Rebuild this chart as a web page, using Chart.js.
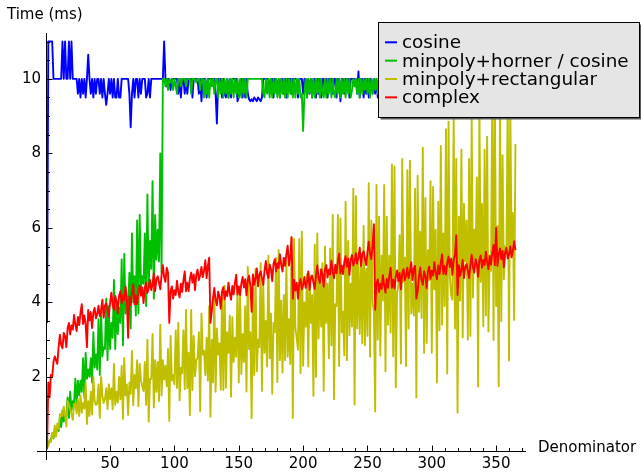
<!DOCTYPE html>
<html>
<head>
<meta charset="utf-8">
<script src="https://cdn.jsdelivr.net/npm/chart.js@4/dist/chart.umd.min.js"></script>
<style>
html,body{margin:0;padding:0;background:#ffffff;}
canvas{display:block;}
</style>
</head>
<body>
<canvas id="c" width="641" height="472"></canvas>
<script>
// ---- data (denominator n = 1 .. 365) ----
const seriesNames = ['cosine', 'minpoly+horner / cosine', 'minpoly+rectangular', 'complex'];
const seriesColors = ['#0000ff', '#00bf00', '#bfbf00', '#ff0000'];
const xTitle = 'Denominator';
const yTitle = 'Time (ms)';
const xTickLabels = [50, 100, 150, 200, 250, 300, 350];
const yTickLabels = [2, 4, 6, 8, 10];

const cosine = [
3.45, 11, 11, 11, 11, 10, 10, 10, 10, 10,
10, 10, 11, 10, 11, 10, 10, 11, 10, 11,
10, 10, 10, 10, 9.6, 10, 9.5, 10, 9.6, 10,
9.5, 10, 10.65, 10, 9.6, 10, 9.5, 10, 9.6, 10,
10, 9.6, 10, 9.5, 10, 9.6, 9.3, 9.6, 10, 9.6,
10, 9.5, 10, 9.5, 9.5, 10, 9.5, 9.5, 10, 10,
10, 10, 10, 10, 9.6, 8.7, 9.6, 10, 9.5, 10,
10, 9.5, 10, 9.6, 10, 10, 10, 9.5, 9.6, 10,
9.5, 10, 10, 10, 10, 10, 10, 10, 10, 10,
10, 11, 10, 9.8, 10, 10, 9.7, 10, 10, 10,
10, 10, 9.6, 10, 9.5, 10, 10, 9.6, 10, 9.6,
10, 10, 10, 9.5, 10, 10, 10, 10, 9.6, 10,
9.4, 10, 10, 10, 9.5, 10, 10, 10, 10, 10,
10, 9.6, 8.8, 10, 10, 10, 9.5, 10, 9.6, 9.5,
10, 9.5, 10, 9.5, 10, 10, 10, 10, 9.4, 9.5,
9.6, 10, 9.5, 10, 9.5, 10, 9.6, 9.45, 9.4, 9.45,
9.4, 9.5, 9.45, 9.4, 9.5, 9.45, 9.4, 9.5, 10, 10,
10, 10, 10, 9.6, 10, 10, 9.5, 10, 10, 9.6,
10, 9.5, 10, 10, 9.6, 10, 9.5, 10, 10, 10,
9.6, 10, 10, 10, 10, 9.5, 10, 10, 10, 9.6,
10, 10, 9.5, 10, 9.6, 10, 9.5, 10, 10, 9.5,
10, 9.6, 10, 9.5, 10, 10, 9.6, 10, 9.5, 10,
10, 10, 9.6, 10, 10, 9.5, 10, 10, 9.4, 10,
10, 9.6, 10, 10, 10, 9.5, 10, 10, 10, 10,
10, 9.6, 10.2, 9.5, 10, 10, 9.5, 10, 9.6, 10,
9.5, 10, 10, 9.6, 10, 9.6, 10, 9.5, 10, 10,
10, 9.6, 10, 10, 9.5, 10, 10, 9.6, 10, 10,
9.5, 10, 10, 9.6, 10, 10, 10, 9.5, 10, 9.6,
10, 10, 9.5, 10, 10, 9.6, 10, 10, 9.5, 10,
10, 9.6, 10, 10, 10, 9.5, 10, 9.6, 10, 10,
9.5, 10, 10, 9.6, 10, 10, 9.5, 10, 10, 9.6,
10, 10, 9.5, 10, 9.6, 10, 10, 10, 9.5, 10,
10, 9.6, 10, 10, 9.5, 10, 10, 9.6, 10, 10,
9.5, 10, 10, 9.6, 10, 10, 9.5, 10, 9.6, 10,
10, 10, 9.5, 10, 10, 9.6, 10, 10, 9.5, 10,
10, 9.6, 10, 10, 9.5, 10, 10, 9.6, 10, 10,
9.5, 10, 10, 9.6, 10
];

const hornerCosine = [
0.15, 0.2, 0.3, 0.3, 0.45, 0.35, 0.6, 0.5, 0.65, 0.55,
0.9, 0.65, 1.1, 0.8, 0.95, 0.95, 1.45, 0.9, 1.6, 1.1,
1.35, 1.3, 1.95, 1.25, 1.9, 1.5, 1.9, 1.6, 2.5, 1.45,
2.65, 1.95, 2.2, 2.0, 2.5, 1.85, 3.2, 2.25, 2.6, 2.2,
3.55, 2.05, 3.75, 2.55, 2.8, 2.75, 4.1, 2.45, 3.9, 2.75,
3.45, 3.05, 4.6, 2.75, 4.0, 3.15, 3.85, 3.45, 5.15, 2.85,
5.3, 3.7, 4.05, 3.85, 4.8, 3.3, 5.85, 4.0, 4.7, 3.65,
6.2, 3.7, 6.35, 4.4, 4.7, 4.5, 5.85, 3.9, 6.9, 4.4,
5.65, 4.9, 7.25, 4.1, 6.35, 5.15, 5.95, 5.1, 8.0, 4.8,
10, 10, 9.8, 10, 9.7, 10, 9.9, 10, 9.7, 10,
9.8, 9.6, 10, 10, 9.8, 10, 10, 10, 9.8, 10,
10, 10, 9.6, 10, 10, 10, 9.9, 10, 10, 9.7,
10, 10, 9.5, 10, 9.6, 10, 9.5, 10, 9.8, 10,
9.6, 10, 10, 9.5, 10, 9.6, 10, 9.5, 10, 9.6,
10, 9.5, 10, 9.6, 10, 9.5, 10, 9.6, 10, 9.5,
10, 9.5, 10, 9.6, 10, 9.5, 10, 10, 10, 10,
10, 10, 10, 10, 10, 10, 10, 10, 9.6, 9.5,
10, 9.6, 10, 9.5, 10, 9.5, 10, 9.6, 10, 9.5,
10, 9.5, 10, 9.6, 10, 9.5, 10, 9.5, 10, 9.6,
10, 9.5, 10, 9.5, 10, 9.6, 10, 9.5, 9.6, 8.6,
9.6, 10, 9.5, 10, 9.6, 10, 9.5, 10, 9.5, 10,
9.6, 10, 9.5, 10, 9.6, 9.5, 10, 9.5, 10, 9.6,
10, 9.5, 10, 9.6, 9.5, 10, 9.6, 10, 9.5, 10,
9.6, 10, 9.5, 10, 9.6, 10, 9.5, 9.7, 10, 9.8,
10, 9.6, 10, 9.5, 10, 9.6, 10, 9.7, 10, 9.6,
10, 9.5, 10, 9.6, 10, 9.7, 10, 9.6, 10, 9.5,
10, 9.6, 10, 9.5, 10, 10, 9.6, 10, 9.5, 10,
9.6, 10, 9.5, 10, 9.6, 10, 9.5, 10, 10, 9.6,
10, 9.5, 10, 9.6, 10, 9.5, 10, 9.6, 10, 9.5,
10, 9.6, 10, 9.5, 10, 10, 9.6, 10, 9.5, 10,
9.6, 10, 9.5, 10, 9.6, 10, 9.5, 10, 10, 9.6,
10, 9.5, 10, 9.6, 10, 9.5, 10, 9.6, 10, 9.5,
10, 9.6, 10, 9.5, 10, 10, 9.6, 10, 9.5, 10,
9.6, 10, 9.5, 10, 9.6, 10, 9.5, 10, 10, 9.6,
10, 9.5, 10, 9.6, 10, 9.5, 10, 9.6, 10, 9.5,
10, 9.6, 10, 9.5, 10, 10, 9.6, 10, 9.5, 10,
9.6, 10, 9.5, 10, 9.6
];

const rectangular = [
0.1, 0.15, 0.3, 0.25, 0.5, 0.35, 0.7, 0.4, 0.75, 0.6,
1.0, 0.98, 0.95, 1.2, 1.0, 0.67, 1.35, 1.25, 1.15, 1.01,
0.85, 1.25, 1.3, 1.02, 1.4, 0.95, 1.5, 1.04, 1.3, 1.15,
1.85, 0.74, 1.35, 0.95, 1.6, 0.99, 2.0, 1.35, 1.25, 1.29,
1.8, 0.9, 2.0, 1.5, 1.3, 1.4, 1.7, 1.14, 1.8, 1.4,
1.7, 1.13, 2.35, 1.25, 1.6, 1.31, 2.0, 1.4, 2.3, 0.87,
2.5, 1.5, 1.8, 0.98, 1.85, 1.55, 2.7, 1.24, 2.05, 1.7,
2.45, 1.21, 2.35, 1.9, 1.75, 1.62, 2.4, 1.25, 3.0, 0.8,
1.95, 1.95, 3.15, 1.18, 2.45, 1.6, 2.4, 1.35, 3.4, 1.5,
2.45, 1.93, 2.3, 1.75, 2.75, 0.82, 3.1, 1.9, 2.05, 1.8,
3.25, 1.7, 3.45, 1.37, 2.25, 2.1, 3.25, 1.67, 3.8, 1.7,
2.65, 0.97, 3.8, 1.65, 3.1, 2.02, 2.45, 2.5, 3.2, 1.08,
3.7, 2.6, 2.7, 2.05, 3.05, 1.9, 3.9, 0.93, 3.0, 1.85,
4.3, 1.6, 3.3, 2.6, 2.9, 1.66, 4.25, 1.65, 4.45, 1.71,
3.2, 2.65, 3.65, 1.47, 3.6, 2.4, 3.05, 2.54, 4.4, 1.85,
4.3, 2.08, 3.15, 2.4, 3.9, 1.61, 4.95, 2.75, 3.2, 0.89,
4.4, 2.05, 4.9, 2.15, 3.0, 2.8, 5.05, 1.62, 4.55, 2.65,
3.5, 2.28, 5.25, 2.5, 3.7, 1.55, 3.45, 3.2, 5.2, 1.86,
5.4, 2.45, 4.05, 2.12, 4.2, 2.45, 5.1, 2.54, 3.55, 2.35,
5.75, 0.9, 5.7, 3.3, 3.05, 2.73, 5.7, 2.1, 5.9, 2.3,
4.0, 3.35, 4.75, 2.28, 4.75, 3.45, 4.2, 1.49, 5.55, 2.0,
5.85, 3.03, 4.6, 3.35, 5.05, 1.63, 5.5, 3.45, 4.5, 2.5,
5.45, 2.85, 6.35, 1.4, 3.95, 3.9, 6.35, 2.29, 6.25, 3.2,
3.75, 2.58, 6.7, 2.45, 5.65, 3.12, 4.5, 3.35, 7.05, 1.26,
6.85, 3.3, 5.05, 3.15, 5.1, 2.9, 6.05, 2.85, 4.9, 3.1,
7.2, 2.54, 6.2, 4.0, 3.75, 1.07, 7.15, 3.0, 6.3, 2.57,
5.25, 4.05, 7.15, 2.15, 6.3, 3.4, 5.25, 3.19, 7.7, 2.55,
7.65, 1.72, 4.25, 4.45, 5.8, 2.36, 7.85, 4.55, 5.2, 2.29,
7.55, 3.3, 7.8, 3.7, 4.5, 3.65, 7.05, 1.45, 7.4, 3.75,
5.9, 3.58, 8.15, 2.65, 6.8, 2.91, 5.4, 4.6, 7.25, 2.65,
7.1, 4.35, 5.95, 1.85, 6.7, 3.25, 8.2, 3.4, 5.85, 3.9,
8.65, 2.09, 8.85, 4.7, 4.2, 4.07, 9.0, 3.3, 7.85, 1.04,
6.3, 4.05, 8.1, 3.06, 6.65, 5.1, 6.2, 3.0, 7.85, 3.1,
8.95, 4.13, 5.95, 5.15, 7.35, 1.74, 9.3, 4.55, 6.65, 3.36,
8.1, 3.65, 8.45, 3.22, 5.25, 4.85, 9.65, 2.99, 9.6, 3.9,
6.05, 1.75, 9.6, 3.5, 7.95, 4.62, 5.5, 5.3, 9.5, 2.44,
9.3, 5.4, 6.4, 3.53, 8.25
];

const complex = [
0.05, 1.85, 1.45, 2.05, 2.0, 2.4, 2.55, 2.45, 2.35, 2.8,
3.13, 2.85, 2.77, 3.18, 3.09, 2.8, 3.3, 3.45, 3.14, 3.38,
3.27, 3.66, 3.4, 3.23, 3.61, 3.39, 3.72, 3.95, 3.42, 3.65,
3.42, 2.8, 3.8, 3.52, 3.74, 3.31, 3.73, 3.85, 3.57, 3.69,
3.91, 3.63, 3.8, 4.07, 3.59, 3.91, 3.98, 3.8, 3.62, 3.99,
4.26, 3.93, 3.8, 4.17, 4.04, 3.71, 4.18, 4.3, 3.97, 4.19,
4.06, 4.43, 4.15, 3.05, 4.15, 3.93, 4.25, 4.48, 3.95, 4.18,
3.95, 4.28, 4.45, 4.18, 4.4, 3.98, 4.4, 4.53, 4.25, 4.38,
4.6, 4.33, 4.5, 4.78, 4.3, 4.63, 4.7, 4.53, 4.35, 4.73,
5.0, 4.68, 4.55, 4.93, 4.8, 3.45, 4.3, 4.43, 4.1, 4.33,
4.2, 4.58, 4.3, 4.13, 4.5, 4.28, 4.6, 4.83, 4.3, 4.53,
4.3, 4.63, 4.8, 4.53, 4.75, 4.33, 4.75, 4.88, 4.6, 4.73,
4.95, 4.68, 4.85, 5.13, 4.65, 4.98, 5.2, 3.45, 3.75, 4.12,
4.39, 4.05, 3.92, 4.29, 4.16, 3.83, 4.29, 4.41, 4.08, 4.3,
4.17, 4.53, 4.25, 4.07, 4.44, 4.21, 4.52, 4.74, 4.21, 4.43,
4.2, 4.51, 4.68, 4.4, 4.62, 4.19, 4.6, 4.72, 4.44, 3.75,
4.75, 4.47, 4.64, 4.91, 4.43, 4.76, 4.83, 4.65, 4.47, 4.84,
5.11, 4.78, 4.65, 5.02, 4.89, 4.57, 5.04, 5.16, 4.83, 5.05,
4.92, 5.29, 5.01, 4.83, 5.2, 4.98, 5.3, 5.52, 4.99, 5.21,
5.75, 4.1, 4.6, 4.32, 4.53, 4.1, 4.51, 4.63, 4.35, 4.46,
4.68, 4.39, 4.56, 4.83, 4.34, 4.66, 4.72, 4.54, 4.36, 4.72,
4.99, 4.66, 4.52, 4.89, 4.75, 4.42, 4.89, 5.0, 4.67, 4.88,
4.75, 5.12, 4.83, 4.65, 5.01, 4.78, 5.1, 5.31, 4.78, 4.99,
4.76, 5.08, 5.24, 4.96, 5.17, 4.74, 5.15, 5.27, 4.99, 5.1,
5.32, 5.04, 5.2, 5.47, 4.98, 5.3, 5.37, 5.18, 5.0, 5.36,
5.63, 5.3, 5.16, 5.53, 6.1, 3.8, 4.5, 4.62, 4.28, 4.5,
4.36, 4.73, 4.45, 4.26, 4.63, 4.39, 4.71, 4.93, 4.39, 4.61,
4.37, 4.69, 4.86, 4.57, 4.79, 4.35, 4.77, 4.89, 4.6, 4.72,
4.93, 4.65, 4.82, 5.08, 4.6, 4.91, 4.98, 4.1, 4.3, 4.67,
4.94, 4.6, 4.47, 4.84, 4.71, 4.38, 4.84, 4.96, 4.63, 4.85,
4.72, 5.08, 4.8, 4.62, 4.99, 4.76, 5.07, 5.29, 4.76, 4.98,
4.75, 5.06, 5.23, 4.95, 5.17, 4.74, 5.15, 5.27, 5.8, 4.2,
5.0, 4.71, 4.88, 5.14, 4.65, 4.96, 5.03, 4.84, 4.65, 5.01,
5.28, 4.94, 4.8, 5.16, 5.03, 4.69, 5.15, 5.26, 4.93, 5.14,
5.0, 5.36, 5.08, 4.89, 5.25, 5.01, 5.33, 5.54, 5.0, 6.0,
4.98, 5.29, 5.45, 5.16, 5.38, 4.94, 5.35, 5.46, 5.18, 5.29,
5.5, 5.21, 5.38, 5.64, 5.4
];

const seriesValues = [cosine, hornerCosine, rectangular, complex];
const denominators = cosine.map((_, i) => i + 1);

// ---- chart ----
Chart.defaults.font.family = '"DejaVu Sans", "Liberation Sans", sans-serif';
Chart.defaults.color = '#000000';

const axisDecor = {
  id: 'axisDecor',
  afterDatasetsDraw(chart) {
    const {ctx, chartArea, scales: {x, y}} = chart;
    const x0 = Math.round(x.getPixelForValue(0)) + 0.5;
    const y0 = Math.round(y.getPixelForValue(0)) + 0.5;
    ctx.save();
    ctx.strokeStyle = '#000000';
    ctx.lineWidth = 1;
    ctx.beginPath();
    // axis lines crossing at the origin
    ctx.moveTo(chartArea.left, y0);
    ctx.lineTo(chartArea.right, y0);
    ctx.moveTo(x0, chartArea.top);
    ctx.lineTo(x0, chartArea.bottom);
    // major / minor ticks
    for (let v = 10; v <= x.max; v += 10) {
      const px = Math.round(x.getPixelForValue(v)) + 0.5;
      const len = (v % 50 === 0) ? 6 : 3.5;
      ctx.moveTo(px, y0);
      ctx.lineTo(px, y0 - len);
    }
    for (let k = 1; k * 0.5 <= y.max; k++) {
      const v = k * 0.5;
      const py = Math.round(y.getPixelForValue(v)) + 0.5;
      const len = (k % 4 === 0) ? 6 : 3.5;
      ctx.moveTo(x0, py);
      ctx.lineTo(x0 + len, py);
    }
    ctx.stroke();
    ctx.restore();
  },
  afterDraw(chart) {
    const {ctx} = chart;
    ctx.save();
    // axis titles
    ctx.fillStyle = '#000000';
    ctx.font = '15px "DejaVu Sans"';
    ctx.textAlign = 'left';
    ctx.textBaseline = 'alphabetic';
    ctx.fillText(yTitle, 7, 18.5);
    ctx.fillText(xTitle, 538, 451.5);
    // legend box
    const bx = 378.5, by = 22.5, bw = 261, bh = 95;
    ctx.fillStyle = '#5a5a5a';
    ctx.fillRect(bx + 2, by + 2, bw, bh);
    ctx.fillStyle = '#e5e5e5';
    ctx.fillRect(bx, by, bw, bh);
    ctx.strokeStyle = '#000000';
    ctx.lineWidth = 1;
    ctx.strokeRect(bx, by, bw, bh);
    ctx.font = '18.4px "DejaVu Sans"';
    chart.data.datasets.forEach((ds, i) => {
      const base = 48.3 + i * 18.35;
      ctx.strokeStyle = ds.borderColor;
      ctx.lineWidth = 2;
      ctx.beginPath();
      ctx.moveTo(385, base - 6);
      ctx.lineTo(397, base - 6);
      ctx.stroke();
      ctx.fillStyle = '#000000';
      ctx.fillText(ds.label, 402, base);
    });
    ctx.restore();
  }
};

new Chart(document.getElementById('c'), {
  type: 'line',
  data: {
    datasets: seriesValues.map((vals, i) => ({
      label: seriesNames[i],
      data: vals.map((v, j) => ({x: denominators[j], y: v})),
      borderColor: seriesColors[i],
      backgroundColor: seriesColors[i],
      borderWidth: 1.9,
      pointRadius: 0,
      tension: 0,
      fill: false,
      borderJoinStyle: 'round',
      order: 4 - i
    }))
  },
  options: {
    responsive: false,
    animation: false,
    devicePixelRatio: 1,
    layout: {padding: {left: 37, right: 115, top: 33, bottom: 12}},
    plugins: {
      legend: {display: false},
      tooltip: {enabled: false},
      title: {display: false}
    },
    scales: {
      x: {
        type: 'linear',
        min: -6.8,
        max: 373.2,
        position: {y: -0.1},
        grid: {display: false, drawTicks: false},
        border: {display: false},
        afterBuildTicks: (s) => { s.ticks = xTickLabels.map(v => ({value: v})); },
        ticks: {color: '#000000', font: {size: 15}, padding: 0, maxRotation: 0, autoSkip: false}
      },
      y: {
        type: 'linear',
        min: -0.23,
        max: 11.23,
        position: {x: -3.6},
        grid: {display: false, drawTicks: false},
        border: {display: false},
        afterBuildTicks: (s) => { s.ticks = yTickLabels.map(v => ({value: v})); },
        ticks: {color: '#000000', font: {size: 15}, padding: 0, autoSkip: false}
      }
    }
  },
  plugins: [axisDecor]
});
</script>
</body>
</html>
